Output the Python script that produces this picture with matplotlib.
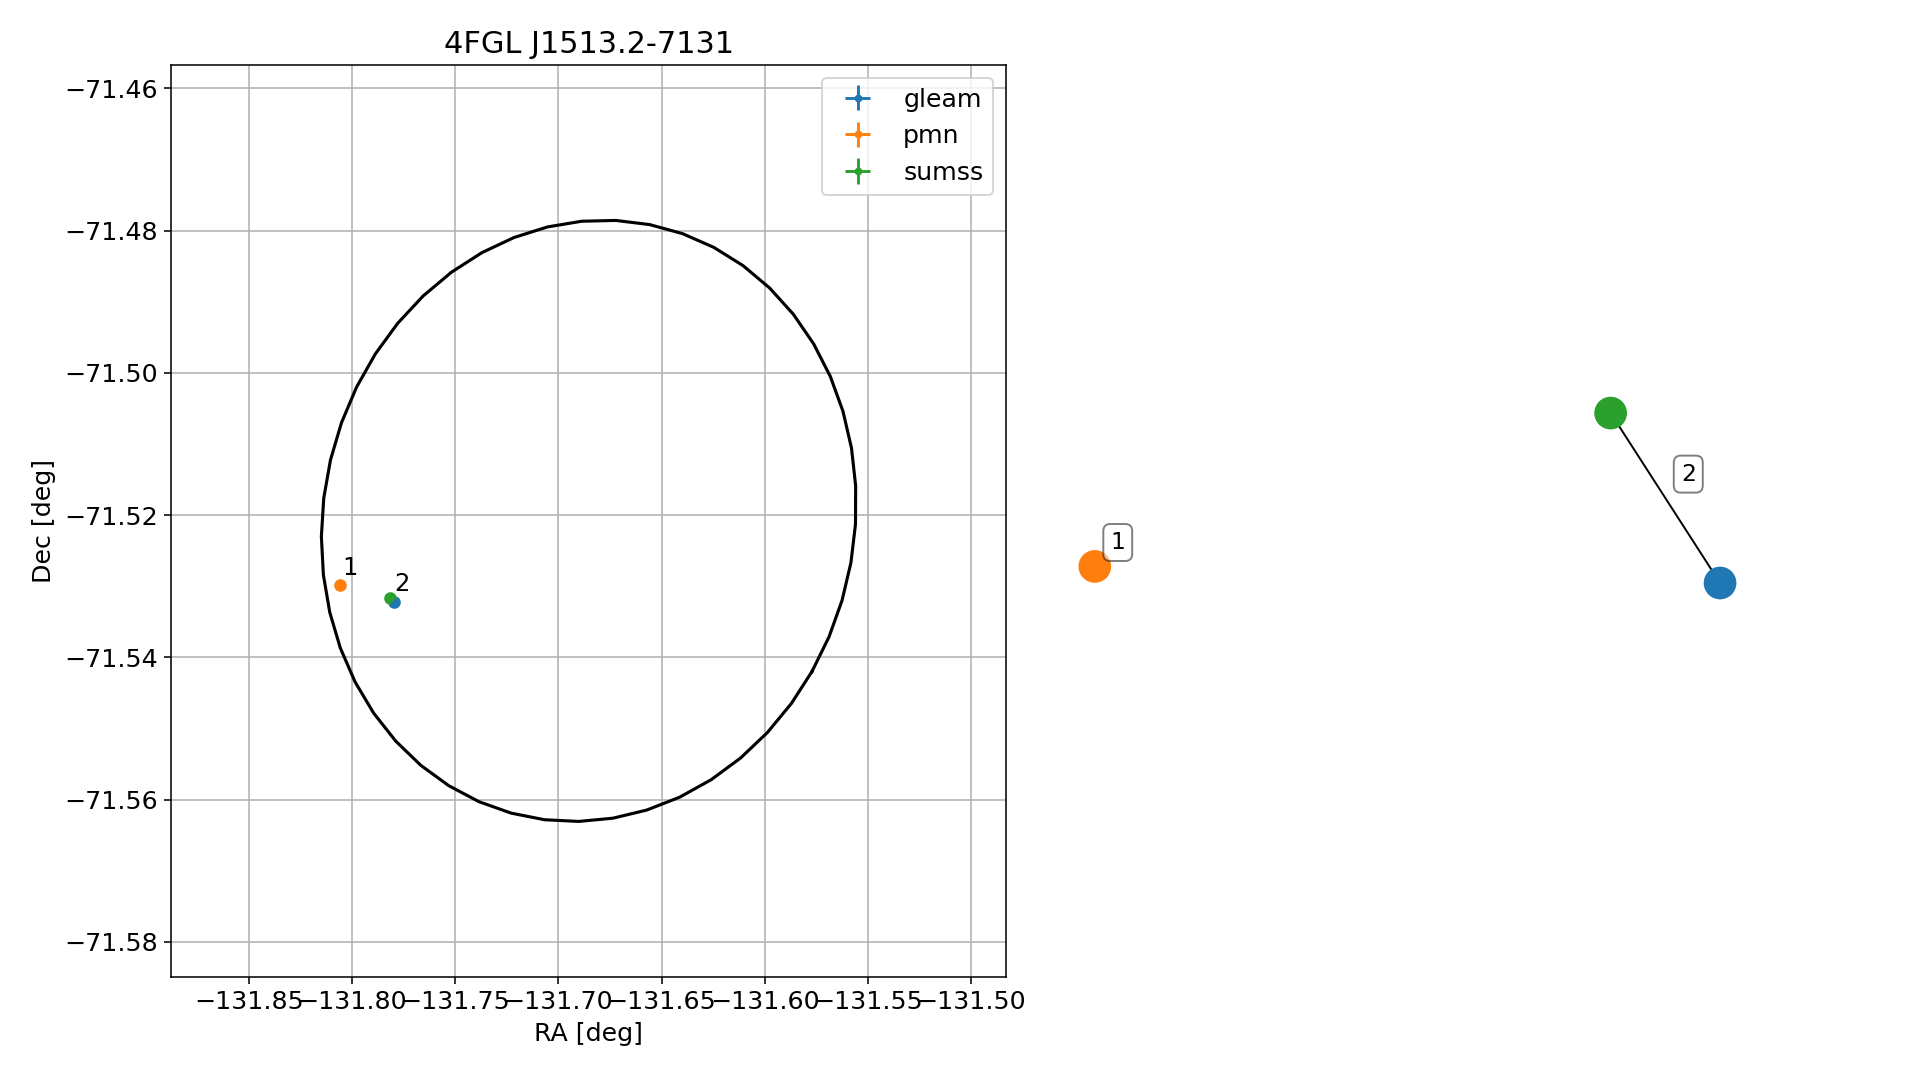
import matplotlib
matplotlib.use('Agg')
import matplotlib.pyplot as plt
import numpy as np

plt.rcParams['font.size'] = 13

# 4FGL source and its 95% error ellipse
source_name = '4FGL J1513.2-7131'
ell_ra = -131.6853
ell_dec = -71.5208
ell_major = 0.0430
ell_minor = 0.0403
ell_angle = 31.7
view_radius = 0.0641

# radio counterparts
surveys = ['gleam', 'pmn', 'sumss']
colors = ['C0', 'C1', 'C2']
src_ra = [-131.7799, -131.8057, -131.7815]
src_dec = [-71.5322, -71.5298, -71.5317]
src_err = [0.0002, 0.0002, 0.0002]
src_cluster = [2, 1, 2]

# graph layout of the clusters (right panel)
node_x = [0.64, -0.96, 0.36]
node_y = [-0.15, -0.11, 0.26]
edges = [(2, 0)]

fig = plt.figure(figsize=(1919 / 140, 1080 / 140), dpi=140)
ax = fig.add_axes([0.0893, 0.0956, 0.4350, 0.8443])
ax2 = fig.add_axes([0.542, 0.0956, 0.448, 0.8443])

# ellipse outline
cosd = np.cos(np.radians(ell_dec))
t = np.linspace(0, 2 * np.pi, 50)
phi = np.radians(ell_angle)
dx = ell_minor * np.cos(t) * np.cos(phi) + ell_major * np.sin(t) * np.sin(phi)
dy = -ell_minor * np.cos(t) * np.sin(phi) + ell_major * np.sin(t) * np.cos(phi)
ax.plot(ell_ra + dx / cosd, ell_dec + dy, color='black', lw=1.6, zorder=3)

for name, c, ra, dec, err in zip(surveys, colors, src_ra, src_dec, src_err):
    ax.errorbar(ra, dec, xerr=err / cosd, yerr=err, fmt='.', color=c, label=name, zorder=4)
    ax.scatter(ra, dec, s=30, color=c, zorder=4)

for k in sorted(set(src_cluster)):
    idx = [i for i, cl in enumerate(src_cluster) if cl == k]
    mra = np.mean([src_ra[i] for i in idx])
    mdec = np.mean([src_dec[i] for i in idx])
    ax.annotate(str(k), (mra, mdec), xytext=(1.3, 4.9), textcoords='offset points',
                fontsize=12.5, zorder=5)

ax.set_xlim(ell_ra - view_radius / cosd, ell_ra + view_radius / cosd)
ax.set_ylim(ell_dec - view_radius, ell_dec + view_radius)
ax.set_xticks(np.arange(-131.85, -131.49, 0.05))
ax.set_yticks(np.arange(-71.58, -71.459, 0.02))
ax.set_xlabel('RA [deg]')
ax.set_ylabel('Dec [deg]')
ax.set_title(source_name)
ax.grid(True)
ax.legend(loc='upper right')

# cluster graph
for a, b in edges:
    ax2.plot([node_x[a], node_x[b]], [node_y[a], node_y[b]], color='black', lw=1.0, zorder=1)
ax2.scatter(node_x, node_y, s=250, c=colors, zorder=2)
box = dict(boxstyle='round', fc='white', ec='black', alpha=0.5)
for k in sorted(set(src_cluster)):
    idx = [i for i, cl in enumerate(src_cluster) if cl == k]
    mx = np.mean([node_x[i] for i in idx])
    my = np.mean([node_y[i] for i in idx])
    ax2.annotate(str(k), (mx, my), xytext=(11.8, 12.3), textcoords='offset points',
                 fontsize=12, ha='center', va='center', bbox=box, zorder=3)
ax2.set_xlim(-1.1, 1.1)
ax2.set_ylim(-1.1, 1.1)
ax2.axis('off')

fig.savefig('out.png', dpi=140)
